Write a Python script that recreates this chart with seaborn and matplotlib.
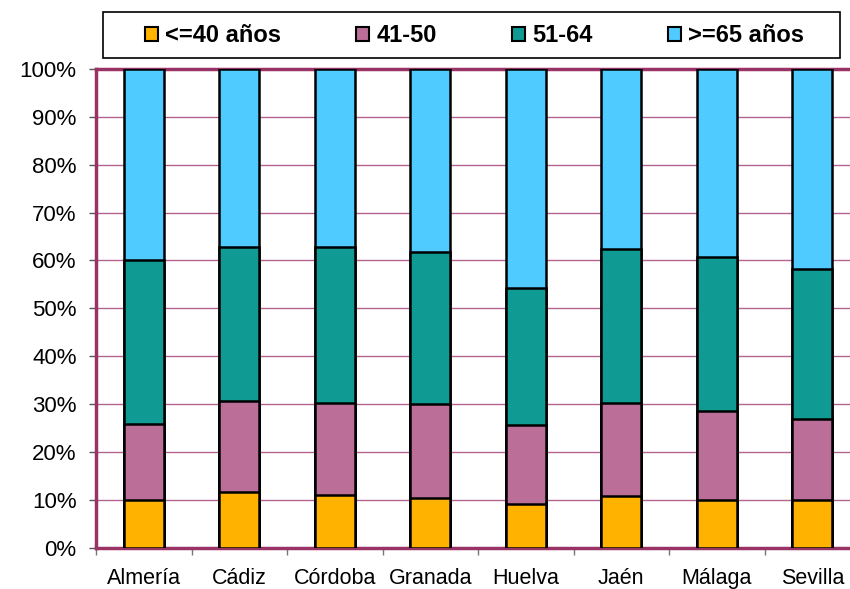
import matplotlib
matplotlib.use("Agg")
import matplotlib.pyplot as plt
import seaborn as sns
import numpy as np
import pandas as pd
from matplotlib.patches import Rectangle, Patch
from matplotlib.ticker import FixedLocator, FuncFormatter

# ---------------- data ----------------
categories = ["Almería", "Cádiz", "Córdoba", "Granada", "Huelva", "Jaén", "Málaga", "Sevilla"]
series_names = ["<=40 años", "41-50", "51-64", ">=65 años"]
le40 = [10.0, 11.7, 11.0, 10.3, 9.0, 10.7, 9.9, 9.9]
s41_50 = [15.8, 19.0, 19.2, 19.6, 16.7, 19.6, 18.6, 17.0]
s51_64 = [34.2, 32.1, 32.6, 31.8, 28.6, 32.0, 32.2, 31.2]
ge65 = [40.0, 37.2, 37.2, 38.3, 45.7, 37.7, 39.3, 41.9]
y_ticks = [0, 10, 20, 30, 40, 50, 60, 70, 80, 90, 100]

colors = ["#FFB300", "#BA6E98", "#109A94", "#4FCBFF"]

sns.set_style("white")
plt.rcParams["font.family"] = ["Liberation Sans", "DejaVu Sans"]
plt.rcParams["text.color"] = "black"
plt.rcParams["xtick.labelcolor"] = "black"
plt.rcParams["ytick.labelcolor"] = "black"

fig = plt.figure(figsize=(8.5, 5.89), dpi=100)
ax = fig.add_axes([96 / 850, 1 - 547.5 / 589, 764 / 850, (547.5 - 69) / 589])

values = [le40, s41_50, s51_64, ge65]
df = pd.DataFrame({"provincia": categories})
running = np.zeros(len(categories))
for name, vals in zip(series_names, values):
    running = running + np.array(vals)
    df[name] = running

for name, col in reversed(list(zip(series_names, colors))):
    sns.barplot(data=df, x="provincia", y=name, order=categories, color=col,
                saturation=1, width=0.42, edgecolor="black", linewidth=1.8,
                errorbar=None, ax=ax, zorder=3)

ax.set_xlabel("")
ax.set_ylabel("")
ax.set_xlim(-0.5, len(categories) - 0.5)
ax.set_ylim(0, 100)

ax.yaxis.set_major_locator(FixedLocator(y_ticks))
ax.yaxis.set_major_formatter(FuncFormatter(lambda v, p: f"{int(round(v))}%"))
ax.yaxis.grid(True, color="#b5638f", lw=1, zorder=0)
ax.set_axisbelow(True)

for s in ["top", "left", "bottom"]:
    ax.spines[s].set_color("#993366")
    ax.spines[s].set_linewidth(2.5)
ax.spines["right"].set_visible(False)

ax.tick_params(axis="y", length=5, width=1, color="#555555", labelsize=16,
               labelcolor="black", pad=9, direction="out", left=True)
ax.tick_params(axis="x", which="major", length=0, labelsize=15.5,
               labelcolor="black", pad=15)
ax.set_xticks(np.arange(-0.5, len(categories), 1.0), minor=True)
ax.tick_params(axis="x", which="minor", length=5, width=1, color="#777777",
               direction="out", bottom=True)

handles = [Patch(facecolor=c, edgecolor="black", lw=1.5) for c in colors]
leg = fig.legend(handles, series_names, loc="center",
                 bbox_to_anchor=(474.5 / 850, 1 - 35.5 / 589), ncol=4, frameon=False,
                 prop={"weight": "bold", "size": 17}, handlelength=0.55, handleheight=0.55,
                 handletextpad=0.3, columnspacing=3.2)
for t in leg.get_texts():
    t.set_color("black")
fig.patches.append(Rectangle((103 / 850, 1 - 58 / 589), (840 - 103) / 850, 46 / 589,
                             transform=fig.transFigure, fill=False, ec="black", lw=1.2))

fig.savefig("out.png", dpi=100)
